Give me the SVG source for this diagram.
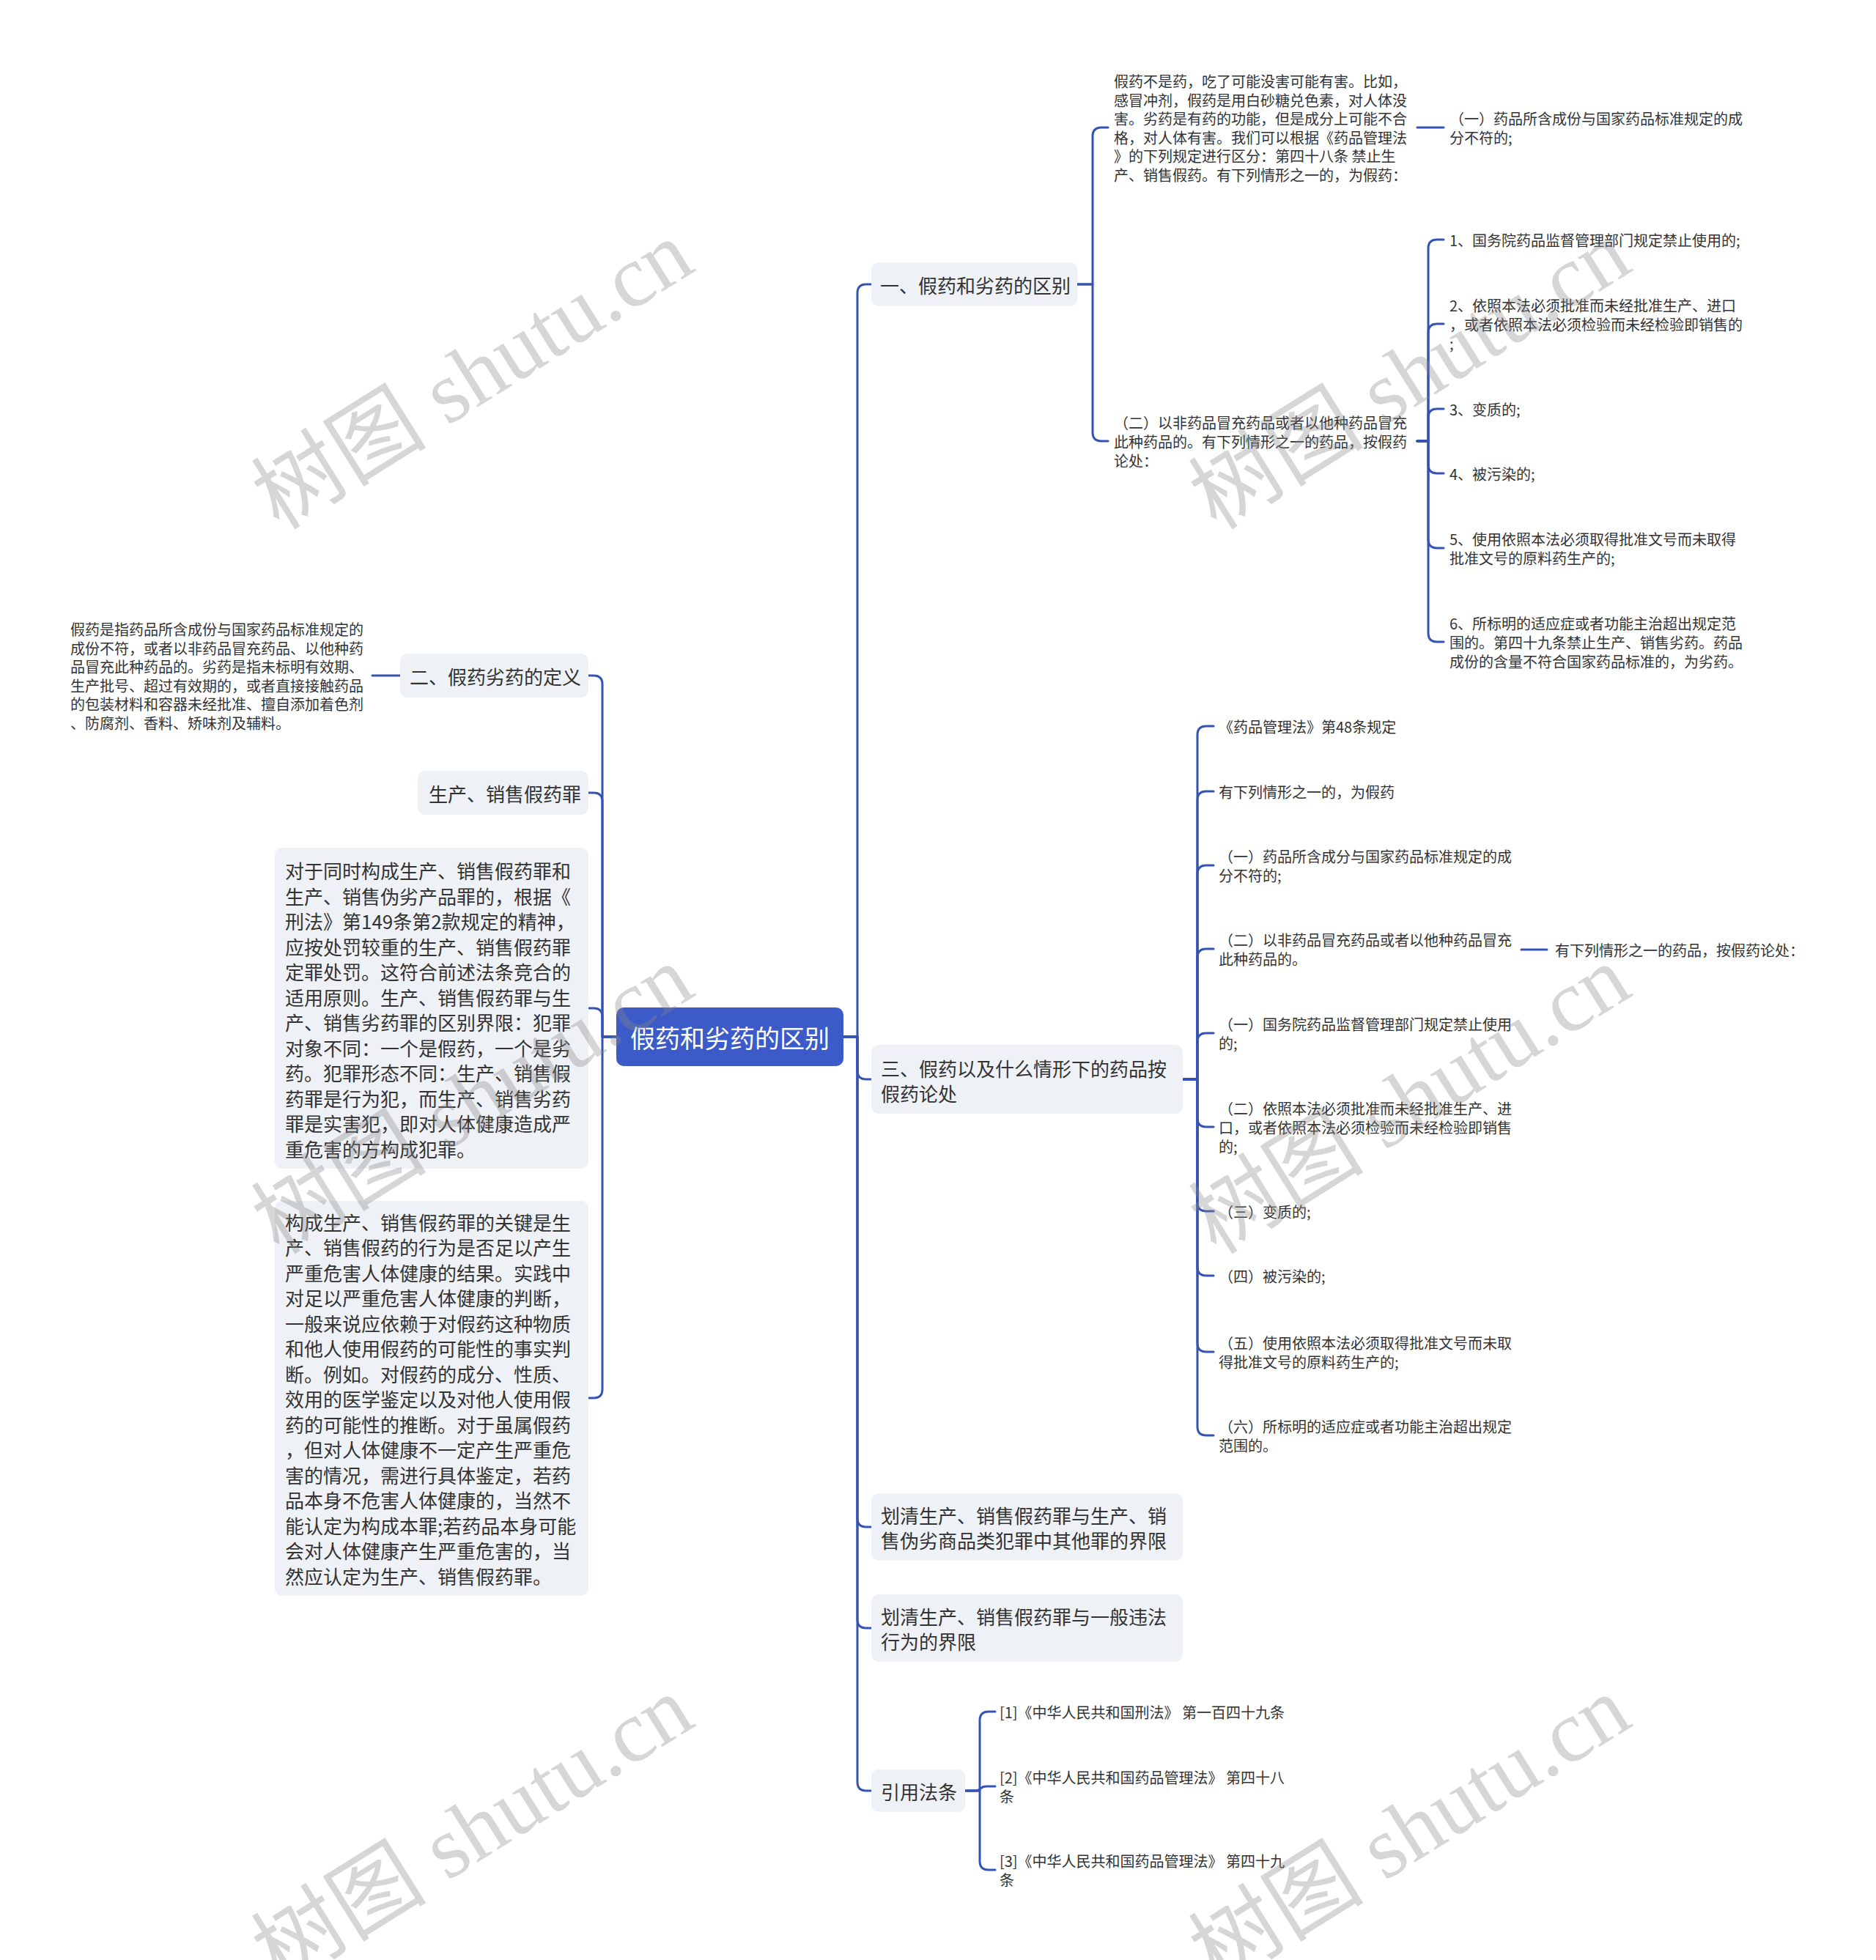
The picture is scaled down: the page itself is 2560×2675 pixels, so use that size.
<svg xmlns="http://www.w3.org/2000/svg" width="2560" height="2675" viewBox="0 0 2560 2675">
<style>
text{font-family:"Noto Sans CJK SC","Noto Sans",sans-serif;fill:#333;dominant-baseline:central}
.c{fill:none;stroke:#3553b3;stroke-width:3;stroke-linecap:round;stroke-linejoin:round}
.box{fill:#eef1f5}
.t26{font-size:26px}
.t20{font-size:20px}
.wm{font-family:"Liberation Serif","Noto Sans CJK SC",serif;font-size:120px;fill:#888;opacity:0.34;text-anchor:middle}
</style>
<rect width="2560" height="2675" fill="#ffffff"/>
<g id="connectors">
<path class="c" d="M1151,1415 H1170 V400 Q1170,388 1182,388 H1189"/>
<path class="c" d="M1151,1415 H1170 V1461 Q1170,1473 1182,1473 H1189"/>
<path class="c" d="M1151,1415 H1170 V2072 Q1170,2084 1182,2084 H1189"/>
<path class="c" d="M1151,1415 H1170 V2210 Q1170,2222 1182,2222 H1189"/>
<path class="c" d="M1151,1415 H1170 V2432 Q1170,2444 1182,2444 H1189"/>
<path class="c" d="M1470,388 H1491 V186 Q1491,174 1503,174 H1512"/>
<path class="c" d="M1470,388 H1491 V590 Q1491,602 1503,602 H1512"/>
<path class="c" d="M1934,174 H1970"/>
<path class="c" d="M1934,602 H1949 V339 Q1949,327 1961,327 H1970"/>
<path class="c" d="M1934,602 H1949 V454 Q1949,442 1961,442 H1970"/>
<path class="c" d="M1934,602 H1949 V570 Q1949,558 1961,558 H1970"/>
<path class="c" d="M1934,602 H1949 V634 Q1949,646 1961,646 H1970"/>
<path class="c" d="M1934,602 H1949 V736 Q1949,748 1961,748 H1970"/>
<path class="c" d="M1934,602 H1949 V864 Q1949,876 1961,876 H1970"/>
<path class="c" d="M1614,1473 H1634 V1003 Q1634,991 1646,991 H1656"/>
<path class="c" d="M1614,1473 H1634 V1092 Q1634,1080 1646,1080 H1656"/>
<path class="c" d="M1614,1473 H1634 V1193 Q1634,1181 1646,1181 H1656"/>
<path class="c" d="M1614,1473 H1634 V1307 Q1634,1295 1646,1295 H1656"/>
<path class="c" d="M1614,1473 H1634 V1422 Q1634,1410 1646,1410 H1656"/>
<path class="c" d="M1614,1473 H1634 V1526 Q1634,1538 1646,1538 H1656"/>
<path class="c" d="M1614,1473 H1634 V1641 Q1634,1653 1646,1653 H1656"/>
<path class="c" d="M1614,1473 H1634 V1729 Q1634,1741 1646,1741 H1656"/>
<path class="c" d="M1614,1473 H1634 V1833 Q1634,1845 1646,1845 H1656"/>
<path class="c" d="M1614,1473 H1634 V1947 Q1634,1959 1646,1959 H1656"/>
<path class="c" d="M2076,1296 H2111"/>
<path class="c" d="M1317,2444 H1337 V2348 Q1337,2336 1349,2336 H1358"/>
<path class="c" d="M1317,2444 H1330 C1340,2444 1336,2438 1346,2438 H1358"/>
<path class="c" d="M1317,2444 H1337 V2540 Q1337,2552 1349,2552 H1358"/>
<path class="c" d="M841,1415 H822 V934 Q822,922 810,922 H803"/>
<path class="c" d="M841,1415 H822 V1094 Q822,1082 810,1082 H803"/>
<path class="c" d="M841,1415 H822 V1388 Q822,1376 810,1376 H803"/>
<path class="c" d="M841,1415 H822 V1896 Q822,1908 810,1908 H803"/>
<path class="c" d="M546,922 H508"/>
</g>
<g id="root">
<rect x="841" y="1375" width="310" height="80" rx="10" fill="#3c5bc9"/>
<text x="996" y="1415" font-size="34" text-anchor="middle" style="fill:#fff">假药和劣药的区别</text>
</g>
<g id="n1">
<rect class="box" x="1189" y="358" width="281" height="60" rx="10"/>
<text class="t26" x="1201" y="388">一、假药和劣药的区别</text>
</g>
<g id="n1a">
<text class="t20" x="1520"><tspan x="1520" y="110">假药不是药，吃了可能没害可能有害。比如，</tspan><tspan x="1520" y="135.6">感冒冲剂，假药是用白砂糖兑色素，对人体没</tspan><tspan x="1520" y="161.2">害。劣药是有药的功能，但是成分上可能不合</tspan><tspan x="1520" y="186.8">格，对人体有害。我们可以根据《药品管理法</tspan><tspan x="1520" y="212.4">》的下列规定进行区分：第四十八条 禁止生</tspan><tspan x="1520" y="238">产、销售假药。有下列情形之一的，为假药：</tspan></text>
</g>
<g id="n1a1">
<text class="t20"><tspan x="1978" y="161.2">（一）药品所含成份与国家药品标准规定的成</tspan><tspan x="1978" y="186.8">分不符的;</tspan></text>
</g>
<g id="n1b">
<text class="t20"><tspan x="1520" y="576.4">（二）以非药品冒充药品或者以他种药品冒充</tspan><tspan x="1520" y="602">此种药品的。有下列情形之一的药品，按假药</tspan><tspan x="1520" y="627.6">论处：</tspan></text>
</g>
<g id="n1b1"><text class="t20" x="1978" y="327">1、国务院药品监督管理部门规定禁止使用的;</text></g>
<g id="n1b2"><text class="t20"><tspan x="1978" y="416.4">2、依照本法必须批准而未经批准生产、进口</tspan><tspan x="1978" y="442">，或者依照本法必须检验而未经检验即销售的</tspan><tspan x="1978" y="467.6">;</tspan></text></g>
<g id="n1b3"><text class="t20" x="1978" y="558">3、变质的;</text></g>
<g id="n1b4"><text class="t20" x="1978" y="646">4、被污染的;</text></g>
<g id="n1b5"><text class="t20"><tspan x="1978" y="735.2">5、使用依照本法必须取得批准文号而未取得</tspan><tspan x="1978" y="760.8">批准文号的原料药生产的;</tspan></text></g>
<g id="n1b6"><text class="t20"><tspan x="1978" y="850.4">6、所标明的适应症或者功能主治超出规定范</tspan><tspan x="1978" y="876">围的。第四十九条禁止生产、销售劣药。药品</tspan><tspan x="1978" y="901.6">成份的含量不符合国家药品标准的，为劣药。</tspan></text></g>
<g id="n3">
<rect class="box" x="1189" y="1426" width="425" height="94" rx="10"/>
<text class="t26"><tspan x="1202" y="1457">三、假药以及什么情形下的药品按</tspan><tspan x="1202" y="1491">假药论处</tspan></text>
</g>
<g id="n3c1"><text class="t20" x="1663" y="991">《药品管理法》第48条规定</text></g>
<g id="n3c2"><text class="t20" x="1663" y="1080">有下列情形之一的，为假药</text></g>
<g id="n3c3"><text class="t20"><tspan x="1663" y="1168.2">（一）药品所含成分与国家药品标准规定的成</tspan><tspan x="1663" y="1193.8">分不符的;</tspan></text></g>
<g id="n3c4"><text class="t20"><tspan x="1663" y="1282.2">（二）以非药品冒充药品或者以他种药品冒充</tspan><tspan x="1663" y="1307.8">此种药品的。</tspan></text></g>
<g id="n3c4a"><text class="t20" x="2122" y="1296">有下列情形之一的药品，按假药论处：</text></g>
<g id="n3c5"><text class="t20"><tspan x="1663" y="1397.2">（一）国务院药品监督管理部门规定禁止使用</tspan><tspan x="1663" y="1422.8">的;</tspan></text></g>
<g id="n3c6"><text class="t20"><tspan x="1663" y="1512.4">（二）依照本法必须批准而未经批准生产、进</tspan><tspan x="1663" y="1538">口，或者依照本法必须检验而未经检验即销售</tspan><tspan x="1663" y="1563.6">的;</tspan></text></g>
<g id="n3c7"><text class="t20" x="1663" y="1653">（三）变质的;</text></g>
<g id="n3c8"><text class="t20" x="1663" y="1741">（四）被污染的;</text></g>
<g id="n3c9"><text class="t20"><tspan x="1663" y="1832.2">（五）使用依照本法必须取得批准文号而未取</tspan><tspan x="1663" y="1857.8">得批准文号的原料药生产的;</tspan></text></g>
<g id="n3c10"><text class="t20"><tspan x="1663" y="1946.2">（六）所标明的适应症或者功能主治超出规定</tspan><tspan x="1663" y="1971.8">范围的。</tspan></text></g>
<g id="n4">
<rect class="box" x="1189" y="2038" width="425" height="92" rx="10"/>
<text class="t26"><tspan x="1202" y="2067">划清生产、销售假药罪与生产、销</tspan><tspan x="1202" y="2101">售伪劣商品类犯罪中其他罪的界限</tspan></text>
</g>
<g id="n5">
<rect class="box" x="1189" y="2176" width="425" height="92" rx="10"/>
<text class="t26"><tspan x="1202" y="2205">划清生产、销售假药罪与一般违法</tspan><tspan x="1202" y="2239">行为的界限</tspan></text>
</g>
<g id="n6">
<rect class="box" x="1189" y="2415" width="128" height="58" rx="10"/>
<text class="t26" x="1202" y="2444">引用法条</text>
</g>
<g id="n6c1"><text class="t20" x="1364" y="2336">[1]《中华人民共和国刑法》 第一百四十九条</text></g>
<g id="n6c2"><text class="t20"><tspan x="1364" y="2425.2">[2]《中华人民共和国药品管理法》 第四十八</tspan><tspan x="1364" y="2450.8">条</tspan></text></g>
<g id="n6c3"><text class="t20"><tspan x="1364" y="2539.2">[3]《中华人民共和国药品管理法》 第四十九</tspan><tspan x="1364" y="2564.8">条</tspan></text></g>
<g id="n2">
<rect class="box" x="546" y="892" width="257" height="60" rx="10"/>
<text class="t26" x="559" y="922">二、假药劣药的定义</text>
</g>
<g id="n2a">
<text class="t20"><tspan x="96" y="858">假药是指药品所含成份与国家药品标准规定的</tspan><tspan x="96" y="883.6">成份不符，或者以非药品冒充药品、以他种药</tspan><tspan x="96" y="909.2">品冒充此种药品的。劣药是指未标明有效期、</tspan><tspan x="96" y="934.8">生产批号、超过有效期的，或者直接接触药品</tspan><tspan x="96" y="960.4">的包装材料和容器未经批准、擅自添加着色剂</tspan><tspan x="96" y="986">、防腐剂、香料、矫味剂及辅料。</tspan></text>
</g>
<g id="n7">
<rect class="box" x="570" y="1052" width="233" height="60" rx="10"/>
<text class="t26" x="585" y="1082">生产、销售假药罪</text>
</g>
<g id="n8">
<rect class="box" x="375" y="1157" width="428" height="438" rx="10"/>
<text class="t26"><tspan x="389" y="1187">对于同时构成生产、销售假药罪和</tspan><tspan x="389" y="1221.5">生产、销售伪劣产品罪的，根据《</tspan><tspan x="389" y="1256">刑法》第149条第2款规定的精神，</tspan><tspan x="389" y="1290.5">应按处罚较重的生产、销售假药罪</tspan><tspan x="389" y="1325">定罪处罚。这符合前述法条竞合的</tspan><tspan x="389" y="1359.5">适用原则。生产、销售假药罪与生</tspan><tspan x="389" y="1394">产、销售劣药罪的区别界限：犯罪</tspan><tspan x="389" y="1428.5">对象不同：一个是假药，一个是劣</tspan><tspan x="389" y="1463">药。犯罪形态不同：生产、销售假</tspan><tspan x="389" y="1497.5">药罪是行为犯，而生产、销售劣药</tspan><tspan x="389" y="1532">罪是实害犯，即对人体健康造成严</tspan><tspan x="389" y="1566.5">重危害的方构成犯罪。</tspan></text>
</g>
<g id="n9">
<rect class="box" x="375" y="1639" width="428" height="539" rx="10"/>
<text class="t26"><tspan x="389" y="1666.5">构成生产、销售假药罪的关键是生</tspan><tspan x="389" y="1701">产、销售假药的行为是否足以产生</tspan><tspan x="389" y="1735.5">严重危害人体健康的结果。实践中</tspan><tspan x="389" y="1770">对足以严重危害人体健康的判断，</tspan><tspan x="389" y="1804.5">一般来说应依赖于对假药这种物质</tspan><tspan x="389" y="1839">和他人使用假药的可能性的事实判</tspan><tspan x="389" y="1873.5">断。例如。对假药的成分、性质、</tspan><tspan x="389" y="1908">效用的医学鉴定以及对他人使用假</tspan><tspan x="389" y="1942.5">药的可能性的推断。对于虽属假药</tspan><tspan x="389" y="1977">，但对人体健康不一定产生严重危</tspan><tspan x="389" y="2011.5">害的情况，需进行具体鉴定，若药</tspan><tspan x="389" y="2046">品本身不危害人体健康的，当然不</tspan><tspan x="389" y="2080.5">能认定为构成本罪;若药品本身可能</tspan><tspan x="389" y="2115">会对人体健康产生严重危害的，当</tspan><tspan x="389" y="2149.5">然应认定为生产、销售假药罪。</tspan></text>
</g>
<g id="watermarks">
<text class="wm" transform="translate(645,512) rotate(-32)">树图 shutu.cn</text>
<text class="wm" transform="translate(1924,512) rotate(-32)">树图 shutu.cn</text>
<text class="wm" transform="translate(645,1501) rotate(-32)">树图 shutu.cn</text>
<text class="wm" transform="translate(1924,1501) rotate(-32)">树图 shutu.cn</text>
<text class="wm" transform="translate(645,2498) rotate(-32)">树图 shutu.cn</text>
<text class="wm" transform="translate(1924,2498) rotate(-32)">树图 shutu.cn</text>
</g>
</svg>
